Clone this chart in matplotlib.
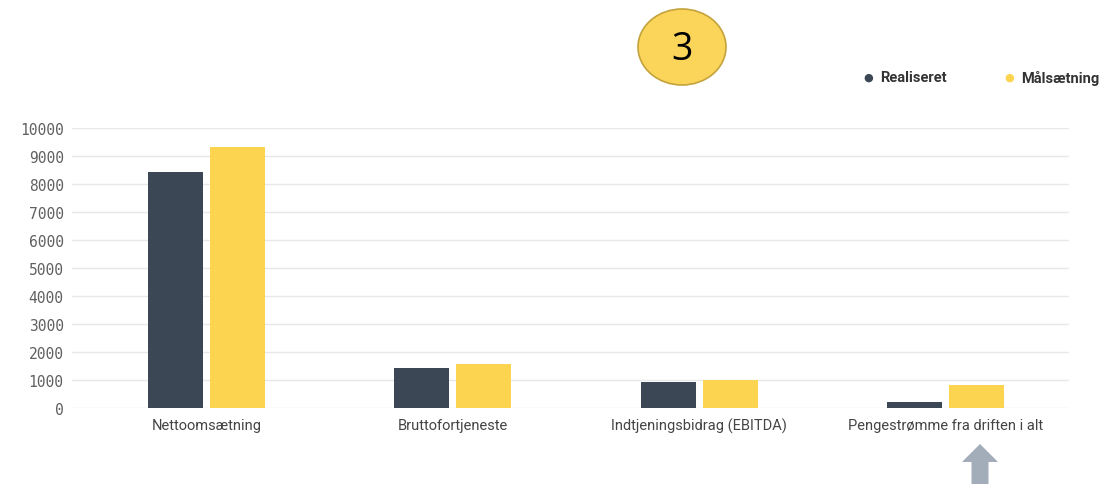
import numpy as np
import matplotlib.pyplot as plt
from matplotlib.patches import Ellipse, FancyArrow

categories = ['Nettoomsætning', 'Bruttofortjeneste', 'Indtjeningsbidrag (EBITDA)',
              'Pengestrømme fra driften i alt']
realiseret = [8430, 1440, 940, 200]
maalsaetning = [9320, 1580, 1010, 820]
yticks = [0, 1000, 2000, 3000, 4000, 5000, 6000, 7000, 8000, 9000, 10000]

dark = '#3b4754'
yellow = '#fdd44f'

fig = plt.figure(figsize=(11.04, 4.85), dpi=100)
ax = fig.add_axes([72/1104, 1-409/485, (1069-72)/1104, 280/485])

x = np.arange(len(categories))
w = 0.224
off = 0.126
ax.bar(x-off, realiseret, w, color=dark, zorder=3)
ax.bar(x+off, maalsaetning, w, color=yellow, zorder=3)

ax.set_xlim(-0.545, 3.5)
ax.set_ylim(0, 10000)
ax.set_yticks(yticks)
ax.set_yticklabels([str(t) for t in yticks], family='DejaVu Sans Mono', fontsize=10.5, color='#606060')
ax.set_xticks(x)
ax.set_xticklabels(categories, family='Roboto', fontsize=10.5, color='#444444')
ax.tick_params(axis='both', length=0)
ax.tick_params(axis='y', pad=6)
ax.tick_params(axis='x', pad=7)
ax.grid(axis='y', color='#e8e8e8', linewidth=1, zorder=0)
for s in ax.spines.values():
    s.set_visible(False)

# legend
fig.text(868/1104, 1-78/485, '●', color=dark, fontsize=8, ha='center', va='center')
fig.text(880/1104, 1-78/485, 'Realiseret', color='#333333', fontsize=10.5,
         family='Roboto', weight='bold', va='center')
fig.text(1009/1104, 1-78/485, '●', color=yellow, fontsize=8, ha='center', va='center')
fig.text(1021/1104, 1-78/485, 'Målsætning', color='#333333', fontsize=10.5,
         family='Roboto', weight='bold', va='center')

# circle badge
ov = fig.add_axes([0, 0, 1, 1], facecolor='none')
ov.set_xlim(0, 1104)
ov.set_ylim(485, 0)
ov.axis('off')
ov.add_patch(Ellipse((682, 48), 88, 76, facecolor='#fbd45a', edgecolor='#c4a33c', linewidth=1.2))
ov.text(682, 50, '3', fontsize=27, ha='center', va='center', family='Open Sans', color='black')

# arrow
ov.add_patch(FancyArrow(980, 485, 0, -40, width=17, head_width=36, head_length=18,
                        length_includes_head=True, color='#a2adb9', linewidth=0))

fig.savefig('out.png', dpi=100)
